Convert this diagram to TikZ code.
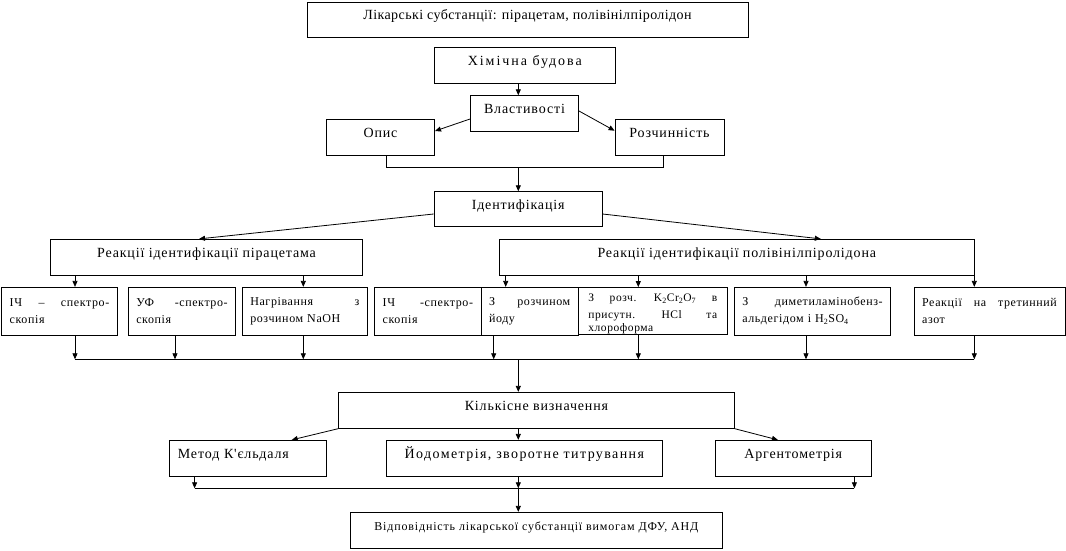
\documentclass[tikz,border=0pt]{standalone}
\usepackage{fontspec}
\setmainfont{Liberation Serif}
\newfontfamily\bigf[LetterSpace=6]{Liberation Serif}
\newfontfamily\bigtop[LetterSpace=3]{Liberation Serif}
\newfontfamily\bigwide[LetterSpace=14]{Liberation Serif}
\newfontfamily\bigyod[LetterSpace=10]{Liberation Serif}
\newfontfamily\midf[LetterSpace=7]{Liberation Serif}
\newfontfamily\smf[LetterSpace=5]{Liberation Serif}
\usetikzlibrary{arrows.meta,calc}
\tikzset{
  ln/.style={line width=0.8pt},
  arr/.style={line width=0.8pt,-{Triangle[length=6pt,width=5pt]}},
  box/.style={draw,line width=0.8pt,inner sep=0pt,font=\bigf\fontsize{14}{16}\selectfont,text height=9.3pt,text depth=9pt},
  mbox/.style={draw,line width=0.8pt,inner sep=0pt,font=\midf\fontsize{12}{16}\selectfont,text height=8pt,text depth=8pt},
  sbox/.style={draw,line width=0.8pt,inner xsep=8pt,inner ysep=0pt,minimum height=48pt,font=\smf\fontsize{12}{17}\selectfont,align=left},
}
\begin{document}
\begin{tikzpicture}[x=1pt,y=-1pt]
\useasboundingbox (0,0) rectangle (1066,550);
% column coordinates
\coordinate (cA) at (75,0);
\coordinate (cB) at (175,0);
\coordinate (cC) at (303.3,0);
\coordinate (cD) at (493.7,0);
\coordinate (cE) at (505.7,0);
\coordinate (cF) at (638.3,0);
\coordinate (cG) at (806,0);
\coordinate (cH) at (974.3,0);
\coordinate (cM) at (518.3,0);
% top
\node[box,minimum width=441pt,minimum height=35pt,font=\bigtop\fontsize{14}{16}\selectfont] (top) at (527.5,19.5) {Лікарські субстанції: пірацетам, полівінілпіролідон};
\node[box,minimum width=180.4pt,minimum height=35.7pt,font=\bigwide\fontsize{14}{16}\selectfont] (khim) at (524.8,65.15) {Хімічна будова};
\node[box,minimum width=108.2pt,minimum height=35.3pt] (vlast) at (524.5,113.35) {Властивості};
\node[box,minimum width=108.2pt,minimum height=36pt] (opys) at (380.5,137.3) {Опис};
\node[box,minimum width=109pt,minimum height=36pt] (rozch) at (669.5,137.3) {Розчинність};
\node[box,minimum width=168.3pt,minimum height=35pt] (ident) at (518.15,209.2) {Ідентифікація};
\node[box,minimum width=311.6pt,minimum height=35.7pt] (reakP) at (206.5,257.15) {Реакції ідентифікації пірацетама};
\node[box,minimum width=475pt,minimum height=35.7pt] (reakV) at (736.8,257.15) {Реакції ідентифікації полівінілпіролідона};
% row of methods
\node[sbox,text width=99.6pt] (ir1) at (59.5,311.3) {ІЧ \hfill – \hfill спектро-\\скопія};
\node[sbox,text width=91.4pt] (uf) at (182,311.3) {УФ \hfill -спектро-\\скопія};
\node[sbox,text width=109pt] (nag) at (304.8,311.3) {Нагрівання \hfill з\\розчином NaOH};
\node[sbox,text width=90.3pt] (ir2) at (427.85,311.3) {ІЧ \hfill -спектро-\\скопія};
\node[sbox,text width=81.3pt] (yod1) at (529.65,311.3) {З \hfill розчином\\йоду};
\node[draw,line width=0.8pt,inner sep=0pt,minimum width=149pt,minimum height=47pt] (k2) at (653,311) {};
\node[anchor=north west,inner sep=0pt,text width=129pt,align=left,font=\smf\fontsize{11.5}{13.5}\selectfont] (k2t) at ([xshift=10pt,yshift=-6.5pt]k2.north west)
  {З \hfill розч. \hfill K\textsubscript{2}Cr\textsubscript{2}O\textsubscript{7} \hfill в\\[3.5pt]присутн. \hfill HCl \hfill та\\хлороформа};
\node[sbox,text width=140.4pt] (dim) at (812.5,311.3) {З \hfill диметиламінобенз-\\альдегідом і H\textsubscript{2}SO\textsubscript{4}};
\node[sbox,text width=134.8pt] (tret) at (989.5,311.3) {Реакції \hfill на \hfill третинний\\азот};
% quantitative
\node[box,minimum width=395.9pt,minimum height=36pt] (kil) at (536.45,410.3) {Кількісне визначення};
\node[box,minimum width=157pt,minimum height=36pt,text width=140pt,align=left] (metod) at (247.9,458.3) {Метод К'єльдаля};
\node[box,minimum width=275.9pt,minimum height=36pt,font=\bigyod\fontsize{14}{16}\selectfont] (yod) at (524.35,458.3) {Йодометрія, зворотне титрування};
\node[box,minimum width=155.9pt,minimum height=36pt] (arg) at (793.25,458.3) {Аргентометрія};
\node[mbox,minimum width=372.3pt,minimum height=36pt] (vidp) at (536.35,530.3) {Відповідність лікарської субстанції вимогам ДФУ, АНД};
% connectors top
\draw[arr] (khim.south -| cM) -- (vlast.north -| cM);
\draw[arr] ([yshift=-5.65pt]vlast.west) -- ([yshift=6.3pt]opys.east);
\draw[arr] ([yshift=2.35pt]vlast.east) -- ([yshift=6.6pt]rozch.west);
\coordinate (j1) at (386.4,167.3);
\coordinate (j2) at (663.3,167.3);
\coordinate (j3) at (518.3,167.3);
\draw[ln] (opys.south -| j1) -- (j1) -- (j2) -- (rozch.south -| j2);
\draw[arr] (j3) -- (ident.north -| j3);
\draw[arr] ([yshift=-4.8pt]ident.west) -- ([xshift=-7.5pt]reakP.north);
\draw[arr] ([yshift=-4.8pt]ident.east) -- ([xshift=84pt]reakV.north);
\draw[arr] (reakP.south -| cA) -- (ir1.north -| cA);
\draw[arr] (reakP.south -| cC) -- (nag.north -| cC);
\draw[arr] (reakV.south -| cE) -- (yod1.north -| cE);
\draw[arr] (reakV.south -| cF) -- (k2.north -| cF);
\draw[arr] (reakV.south -| cG) -- (dim.north -| cG);
\draw[arr] (reakV.south -| cH) -- (tret.north -| cH);
% first bus
\coordinate (b1L) at (75,359.3);
\coordinate (b1R) at (974.3,359.3);
\draw[ln] (b1L) -- (b1R);
\draw[arr] (ir1.south -| cA) -- (b1L);
\draw[arr] (uf.south -| cB) -- (cB |- b1L);
\draw[arr] (nag.south -| cC) -- (cC |- b1L);
\draw[arr] (yod1.south -| cD) -- (cD |- b1L);
\draw[arr] (k2.south -| cF) -- (cF |- b1L);
\draw[arr] (dim.south -| cG) -- (cG |- b1L);
\draw[arr] (tret.south -| cH) -- (b1R);
\draw[arr] (cM |- b1L) -- (kil.north -| cM);
% quantitative connectors
\draw[arr] (kil.south west) -- ([xshift=43.8pt]metod.north);
\draw[arr] (kil.south -| cM) -- (yod.north -| cM);
\draw[arr] (kil.south east) -- ([xshift=-15.3pt]arg.north);
\coordinate (b2L) at (194.6,488.3);
\coordinate (b2R) at (854.4,488.3);
\draw[ln] (b2L) -- (b2R);
\draw[arr] (metod.south -| b2L) -- (b2L);
\draw[arr] (yod.south -| cM) -- (cM |- b2L);
\draw[arr] (arg.south -| b2R) -- (b2R);
\draw[arr] (cM |- b2L) -- (vidp.north -| cM);
\end{tikzpicture}
\end{document}
